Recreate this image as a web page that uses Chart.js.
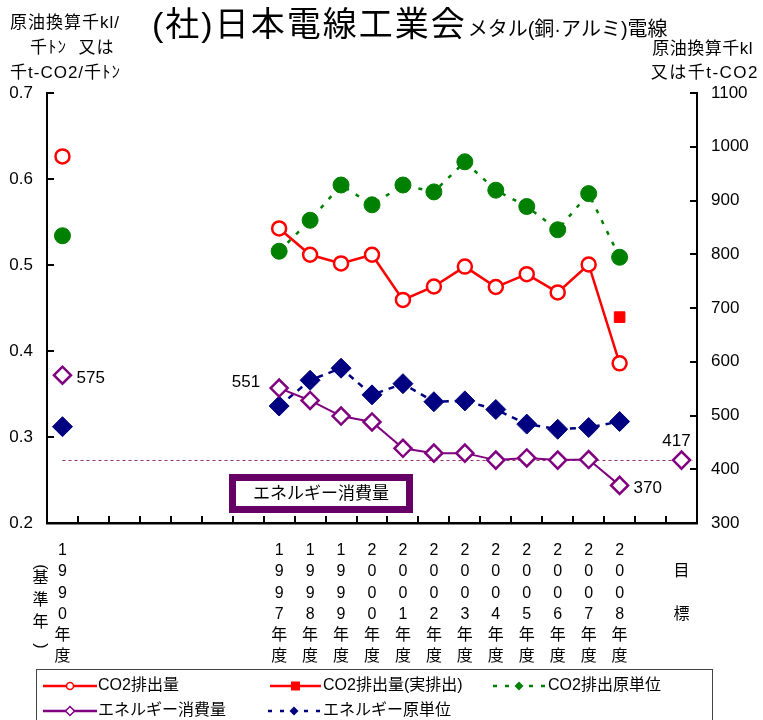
<!DOCTYPE html>
<html><head><meta charset="utf-8">
<script src="https://cdn.jsdelivr.net/npm/chart.js@4"></script>
<style>html,body{margin:0;padding:0;background:#fff}#wrap{width:763px;height:720px;position:relative}</style>
</head><body><div id="wrap"><canvas id="c"></canvas></div>
<script>
// ---- data ----
const CATEGORIES = ['1990','','','','','','','1997','1998','1999','2000','2001','2002','2003','2004','2005','2006','2007','2008','','目標'];
const CO2_EMISSION     = [982, null,null,null,null,null,null, 848, 799, 783, 799, 715, 740, 777, 739, 763, 729, 781, 597, null, null];
const CO2_ACTUAL       = [null, null,null,null,null,null,null, null,null,null,null,null,null,null,null,null,null,null, 683, null, null];
const CO2_INTENSITY    = [0.534, null,null,null,null,null,null, 0.516, 0.552, 0.593, 0.570, 0.593, 0.585, 0.620, 0.587, 0.568, 0.541, 0.583, 0.509, null, null];
const ENERGY           = [575, null,null,null,null,null,null, 551, 528, 499, 488, 439, 430, 430, 417, 421, 417, 418, 370, null, 417];
const ENERGY_INTENSITY = [0.312, null,null,null,null,null,null, 0.336, 0.366, 0.380, 0.349, 0.362, 0.341, 0.342, 0.332, 0.315, 0.309, 0.311, 0.318, null, null];
const ENERGY_TARGET = 417;
const LEFT_TICKS  = [0.2, 0.3, 0.4, 0.5, 0.6, 0.7];
const RIGHT_TICKS = [300, 400, 500, 600, 700, 800, 900, 1000, 1100];
const SERIES_NAMES = ['CO2排出量', 'CO2排出量(実排出)', 'CO2排出原単位', 'エネルギー消費量', 'エネルギー原単位'];
const LABELLED_POINTS = [0, 7, 18, 20]; // indices of ENERGY values printed on the chart

const FONT = "'Liberation Sans','Noto Sans CJK JP',sans-serif";

const xLabels = CATEGORIES.map(c => {
  if (c === '') return '';
  if (/^\d+$/.test(c)) return [...c.split(''), '年', '度'];
  return ['', c[0], '', c[1]];
});

const RED = '#ff0000', GREEN = '#008000', PURPLE = '#800080', NAVY = '#000080';

function drawMarker(ctx, style, x, y, r, fill, stroke, bw) {
  ctx.save();
  ctx.beginPath();
  if (style === 'circle') ctx.arc(x, y, r, 0, Math.PI * 2);
  else if (style === 'rect') ctx.rect(x - r, y - r, 2 * r, 2 * r);
  else { ctx.moveTo(x, y - r); ctx.lineTo(x + r, y); ctx.lineTo(x, y + r); ctx.lineTo(x - r, y); ctx.closePath(); }
  ctx.fillStyle = fill; ctx.fill();
  if (bw) { ctx.lineWidth = bw; ctx.strokeStyle = stroke; ctx.setLineDash([]); ctx.stroke(); }
  ctx.restore();
}

function spaced(ctx, px) { if ('letterSpacing' in ctx) ctx.letterSpacing = px + 'px'; }

const decorPlugin = {
  id: 'decor',
  beforeDatasetsDraw(chart) {
    const {ctx, chartArea: ca, scales} = chart;
    const xs = scales.x, yR = scales.yR;
    // target dotted line
    const y = Math.round(yR.getPixelForValue(ENERGY_TARGET)) + 0.5;
    ctx.save();
    ctx.strokeStyle = '#993366'; ctx.lineWidth = 1; ctx.setLineDash([3, 3]);
    ctx.beginPath(); ctx.moveTo(xs.getPixelForTick(0), y); ctx.lineTo(ca.right - 4, y); ctx.stroke();
    ctx.restore();
    // text box
    ctx.save();
    ctx.fillStyle = '#fff'; ctx.fillRect(232, 477, 178, 33);
    ctx.strokeStyle = '#660066'; ctx.lineWidth = 7;
    ctx.strokeRect(232.5, 477.5, 177, 32);
    ctx.fillStyle = '#000'; ctx.font = '17px ' + FONT; ctx.textAlign = 'center'; ctx.textBaseline = 'middle';
    ctx.fillText('エネルギー消費量', 321, 494);
    ctx.restore();
  },
  afterDraw(chart) {
    const {ctx, chartArea: ca, scales} = chart;
    const xs = scales.x, yL = scales.yL, yR = scales.yR;
    ctx.save();
    // inside ticks
    ctx.strokeStyle = '#000'; ctx.lineWidth = 2;
    ctx.beginPath();
    LEFT_TICKS.forEach(v => { const y = Math.round(yL.getPixelForValue(v)); ctx.moveTo(ca.left, y); ctx.lineTo(ca.left + 7, y); });
    RIGHT_TICKS.forEach(v => { const y = Math.round(yR.getPixelForValue(v)); ctx.moveTo(ca.right - 7, y); ctx.lineTo(ca.right, y); });
    for (let i = 1; i < CATEGORIES.length; i++) {
      const x = Math.round((xs.getPixelForTick(i - 1) + xs.getPixelForTick(i)) / 2);
      ctx.moveTo(x, ca.bottom); ctx.lineTo(x, ca.bottom - 7);
    }
    ctx.stroke();

    // title
    ctx.fillStyle = '#000'; ctx.textBaseline = 'alphabetic'; ctx.textAlign = 'left';
    ctx.font = '34px ' + FONT;
    spaced(ctx, 2);
    const t1 = '(社)日本電線工業会';
    ctx.fillText(t1, 152, 36);
    const w1 = ctx.measureText(t1).width;
    ctx.font = '20px ' + FONT;
    spaced(ctx, 0);
    ctx.fillText('メタル(銅·アルミ)電線', 152 + w1 + 1, 36);

    // axis titles
    ctx.font = '17px ' + FONT;
    spaced(ctx, 1);
    ctx.fillText('原油換算千kl/', 10, 28);
    ctx.fillText('千ﾄﾝ  又は', 30, 53);
    ctx.fillText('千t-CO2/千ﾄﾝ', 10, 78);
    ctx.textAlign = 'right';
    spaced(ctx, 0.5);
    ctx.fillText('原油換算千kl', 753, 54);
    spaced(ctx, 1.5);
    ctx.fillText('又は千t-CO2', 759, 78);
    spaced(ctx, 0);

    // (基準年)
    ctx.textAlign = 'center'; ctx.textBaseline = 'middle'; ctx.font = '16px ' + FONT;
    const bx = xs.getPixelForTick(0) - 22;
    ctx.save(); ctx.translate(bx, 567); ctx.rotate(Math.PI / 2); ctx.fillText('(', 0, 0); ctx.restore();
    ctx.fillText('基', bx, 579);
    ctx.fillText('準', bx, 601);
    ctx.fillText('年', bx, 623);
    ctx.save(); ctx.translate(bx, 646); ctx.rotate(Math.PI / 2); ctx.fillText(')', 0, 0); ctx.restore();

    // value labels on energy series
    const meta = chart.getDatasetMeta(3);
    ctx.font = '17px ' + FONT;
    LABELLED_POINTS.forEach((i, k) => {
      const p = meta.data[i]; const txt = String(ENERGY[i]);
      if (k === 0 || k === 2) { ctx.textAlign = 'left'; ctx.fillText(txt, p.x + 14, p.y + 3); }
      else if (k === 1) { ctx.textAlign = 'right'; ctx.fillText(txt, p.x - 19, p.y - 6); }
      else { ctx.textAlign = 'center'; ctx.fillText(txt, p.x - 5, p.y - 19); }
    });

    // legend
    ctx.strokeStyle = '#444'; ctx.lineWidth = 1; ctx.setLineDash([]);
    ctx.strokeRect(36.5, 669.5, 676, 60);
    const items = [
      {ds: 0, x: 43, y: 686, w: 54, tx: 98, color: RED, dash: [], style: 'circle', r: 3.5, fill: '#fff', bw: 1.5},
      {ds: 1, x: 270, y: 686, w: 51, tx: 323, color: RED, dash: [], style: 'rect', r: 4.5, fill: RED, bw: 0},
      {ds: 2, x: 493, y: 686, w: 52, tx: 548, color: GREEN, dash: [4, 8], style: 'diamond', r: 4.5, fill: GREEN, bw: 0},
      {ds: 3, x: 43, y: 711, w: 54, tx: 98, color: PURPLE, dash: [], style: 'diamond', r: 4.5, fill: '#fff', bw: 1.5},
      {ds: 4, x: 268, y: 711, w: 52, tx: 323, color: NAVY, dash: [4, 8], style: 'diamond', r: 4.5, fill: NAVY, bw: 0},
    ];
    ctx.font = '16px ' + FONT; ctx.textAlign = 'left'; ctx.textBaseline = 'middle'; ctx.fillStyle = '#000';
    items.forEach(it => {
      ctx.save();
      ctx.strokeStyle = it.color; ctx.lineWidth = 2.5; ctx.setLineDash(it.dash);
      ctx.beginPath(); ctx.moveTo(it.x, it.y); ctx.lineTo(it.x + it.w, it.y); ctx.stroke();
      ctx.restore();
      drawMarker(ctx, it.style, it.x + it.w / 2, it.y, it.r, it.fill, it.color, it.bw);
      ctx.fillStyle = '#000';
      ctx.fillText(SERIES_NAMES[it.ds], it.tx, it.y);
    });
    ctx.restore();
  }
};

new Chart(document.getElementById('c'), {
  type: 'line',
  data: {
    labels: xLabels,
    datasets: [
      {label: SERIES_NAMES[0], data: CO2_EMISSION, yAxisID: 'yR', borderColor: RED, borderWidth: 2.5,
       pointStyle: 'circle', pointRadius: 7, pointBackgroundColor: '#fff', pointBorderColor: RED, pointBorderWidth: 2.5, spanGaps: false},
      {label: SERIES_NAMES[1], data: CO2_ACTUAL, yAxisID: 'yR', showLine: false,
       pointStyle: 'rect', pointRadius: 7.5, pointBackgroundColor: RED, pointBorderColor: RED, pointBorderWidth: 1},
      {label: SERIES_NAMES[2], data: CO2_INTENSITY, yAxisID: 'yL', borderColor: GREEN, borderWidth: 2.5, borderDash: [4, 8],
       pointStyle: 'circle', pointRadius: 8, pointBackgroundColor: GREEN, pointBorderColor: GREEN, pointBorderWidth: 1, spanGaps: false},
      {label: SERIES_NAMES[3], data: ENERGY, yAxisID: 'yR', borderColor: PURPLE, borderWidth: 2,
       pointStyle: 'rectRot', pointRadius: 8.5, pointBackgroundColor: '#fff', pointBorderColor: PURPLE, pointBorderWidth: 2.5, spanGaps: false},
      {label: SERIES_NAMES[4], data: ENERGY_INTENSITY, yAxisID: 'yL', borderColor: NAVY, borderWidth: 2.5, borderDash: [6, 6],
       pointStyle: 'rectRot', pointRadius: 10, pointBackgroundColor: NAVY, pointBorderColor: NAVY, pointBorderWidth: 1, spanGaps: false},
    ]
  },
  options: {
    responsive: true, maintainAspectRatio: false, animation: false,
    layout: {padding: {top: 93, bottom: 52, left: 0, right: 0}},
    plugins: {legend: {display: false}, title: {display: false}, tooltip: {enabled: false}},
    scales: {
      x: {
        type: 'category', offset: true,
        grid: {display: false, drawTicks: false},
        border: {display: true, color: '#000', width: 2.5},
        ticks: {autoSkip: false, maxRotation: 0, minRotation: 0, padding: 17, color: '#000',
                font: {family: FONT, size: 16, lineHeight: 1.33}},
        afterFit: s => { s.height = 145; }
      },
      yL: {
        position: 'left', min: 0.2, max: 0.7,
        grid: {display: false, drawTicks: false},
        border: {display: true, color: '#000', width: 2},
        ticks: {padding: 14, color: '#000', font: {family: FONT, size: 17}, callback: v => Number(v).toFixed(1)},
        afterBuildTicks: s => { s.ticks = LEFT_TICKS.map(v => ({value: v})); },
        afterFit: s => { s.width = 47; }
      },
      yR: {
        position: 'right', min: 300, max: 1100,
        grid: {display: false, drawTicks: false},
        border: {display: true, color: '#000', width: 2},
        ticks: {padding: 14, color: '#000', font: {family: FONT, size: 17}, callback: v => String(v)},
        afterBuildTicks: s => { s.ticks = RIGHT_TICKS.map(v => ({value: v})); },
        afterFit: s => { s.width = 66; }
      }
    }
  },
  plugins: [decorPlugin]
});
</script>
</body></html>
